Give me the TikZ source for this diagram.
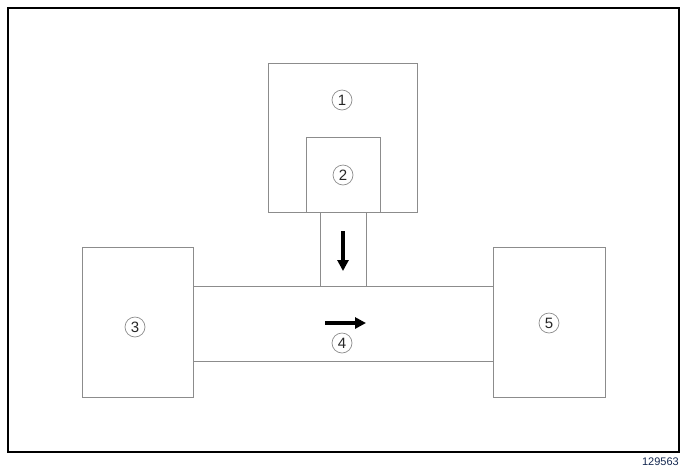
\documentclass[tikz,border=0pt]{standalone}
\usepackage{fontspec}
\setmainfont{Liberation Sans}
\usetikzlibrary{arrows.meta}

\definecolor{boxgray}{RGB}{140,140,140}
\definecolor{refblue}{RGB}{20,40,80}

\tikzset{
  block/.style={draw=boxgray, line width=1pt},
  callout/.style={circle, draw=boxgray, line width=0.7pt, inner sep=0pt,
    minimum size=20pt, text=black!85, font=\fontsize{15}{15}\selectfont},
  flow/.style={line width=3.2pt, -{Triangle[length=11pt,width=11pt]}}
}

\begin{document}
\begin{tikzpicture}[x=1pt,y=-1pt]
\useasboundingbox (0,0) rectangle (686,467);

% Frame
\draw[line width=1.6pt] (8,8) rectangle (679,452);
\node[font=\fontsize{11}{11}\selectfont, text=refblue, anchor=base east, inner sep=0pt] (ref) at (679,465) {129563};

% Upper blocks 1 and 2
\draw[block] (268,63) rectangle (417,212);
\draw[block] (306,137) rectangle (380,212);

% Neck between block 2 and the duct
\draw[block] (320,212) -- (320,286);
\draw[block] (366,212) -- (366,286);

% Side blocks 3 and 5
\draw[block] (82,247) rectangle (193,397);
\draw[block] (493,247) rectangle (605,397);

% Duct 4
\draw[block] (193,286) -- (493,286);
\draw[block] (193,361) -- (493,361);

% Callouts
\node[callout] (n1) at (342,100) {1};
\node[callout] (n2) at (343,175) {2};
\node[callout] (n3) at (135,327) {3};
\node[callout] (n4) at (342,343) {4};
\node[callout] (n5) at (549,323) {5};

% Flow arrows
\coordinate (down-a) at (343,231);
\coordinate (down-b) at (343,271);
\coordinate (right-a) at (325,323);
\coordinate (right-b) at (366,323);
\draw[flow] (down-a) -- (down-b);
\draw[flow] (right-a) -- (right-b);

\end{tikzpicture}
\end{document}
